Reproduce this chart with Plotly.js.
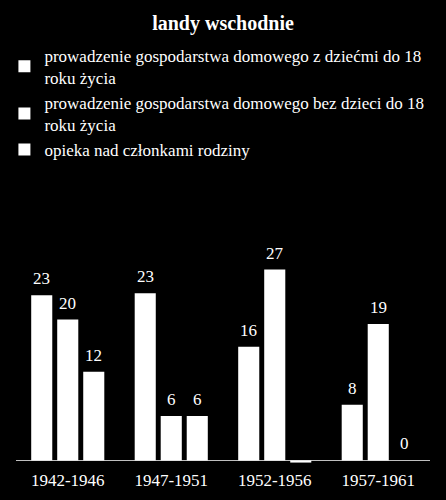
<!DOCTYPE html>
<html>
<head>
<meta charset="utf-8">
<script src="https://cdn.plot.ly/plotly-3.0.1.min.js"></script>
<style>
  html, body { margin: 0; padding: 0; background: #000; }
  #chart { width: 446px; height: 500px; }
</style>
</head>
<body>
<div id="chart"></div>
<script>
// ------------------------------------------------------------------------------
// DATA

const categories = ['1942-1946', '1947-1951', '1952-1956', '1957-1961'];
const series_names = [
    'prowadzenie gospodarstwa domowego z dziećmi do 18<br>roku życia',
    'prowadzenie gospodarstwa domowego bez dzieci do 18<br>roku życia',
    'opieka nad członkami rodziny'
];
// bar heights; labels show them rounded
const with_children    = [23.1, 23.4, 15.9, 7.8];
const without_children = [19.7, 6.2, 26.7, 19.1];
const family_care      = [12.4, 6.2, -0.3, 0];

const font_family = '"Liberation Serif", "Times New Roman", serif';
const bar_gap       = 0.246;
const bar_group_gap = 0.19;

// ------------------------------------------------------------------------------
// TRACES

const all_series = [with_children, without_children, family_care];

const traces = all_series.map((values, k) => ({
    type: 'bar',
    name: series_names[k],
    x: categories,
    y: values,
    marker: { color: '#ffffff', line: { width: 0 } },
    hoverinfo: 'none'
}));

// value labels sit a bit higher above the bars than plotly's own text would
const slot = (1 - bar_gap) / all_series.length;
const annotations = [];
all_series.forEach((values, k) => {
    values.forEach((v, i) => {
        if (v < 0) return;
        annotations.push({
            xref: 'x',
            yref: 'y',
            x: i + (k - (all_series.length - 1) / 2) * slot,
            y: v,
            text: String(Math.round(v)),
            showarrow: false,
            xanchor: 'center',
            yanchor: 'bottom',
            yshift: 5,
            font: { family: font_family, size: 17, color: '#ffffff' }
        });
    });
});

const layout = {
    width: 446,
    height: 500,
    paper_bgcolor: '#000000',
    plot_bgcolor: '#000000',
    font: { family: font_family, color: '#ffffff', size: 17 },
    title: {
        text: '<b>landy wschodnie</b>',
        x: 0.5,
        xanchor: 'center',
        y: 0.955,
        yanchor: 'middle',
        yref: 'container',
        font: { family: font_family, size: 20, color: '#ffffff' }
    },
    showlegend: true,
    legend: {
        x: 0.0099,
        y: 1.956,
        xanchor: 'left',
        yanchor: 'top',
        bgcolor: 'rgba(0,0,0,0)',
        font: { family: font_family, size: 17, color: '#ffffff' },
        itemclick: false,
        traceorder: 'normal'
    },
    barmode: 'group',
    bargap: bar_gap,
    bargroupgap: bar_group_gap,
    margin: { l: 0, r: 0, t: 246, b: 36 },
    annotations: annotations,
    xaxis: {
        type: 'category',
        domain: [16 / 446, 430 / 446],
        showgrid: false,
        showline: false,
        ticks: '',
        ticklabelstandoff: 4,
        tickfont: { family: font_family, size: 17, color: '#ffffff' }
    },
    yaxis: {
        range: [-0.5, 30],
        autorange: false,
        showgrid: false,
        showticklabels: false,
        showline: false,
        zeroline: true,
        zerolinecolor: '#bfbfbf',
        zerolinewidth: 1
    }
};

Plotly.newPlot('chart', traces, layout, { displayModeBar: false, staticPlot: true });
</script>
</body>
</html>
